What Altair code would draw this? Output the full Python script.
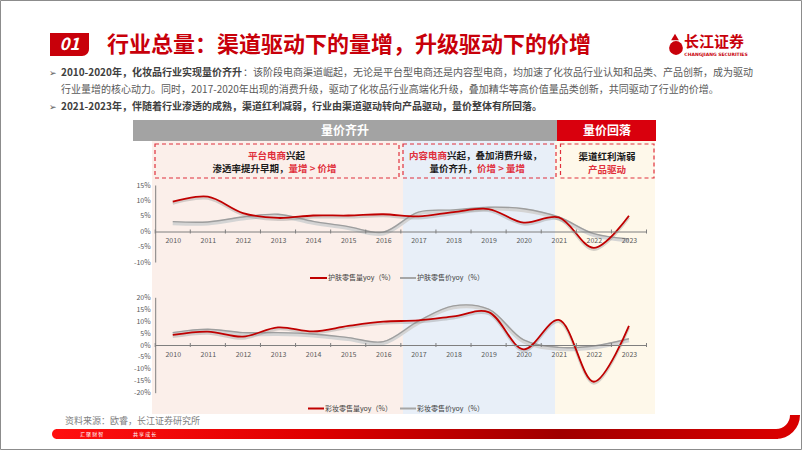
import altair as alt
import pandas as pd

# ---------------- data ----------------
years = list(range(2010, 2024))
skin_volume = [9.6, 11.2, 5.9, 4.3, 5.1, 5.1, 5.5, 4.8, 6.2, 7.2, 2.8, 4.5, -5.4, 5.0]
skin_price = [3.1, 3.0, 4.6, 5.5, 3.2, 1.5, -0.3, 6.2, 6.9, 7.8, 7.3, 4.6, -0.8, -2.5]
makeup_volume = [4.2, 5.6, 3.5, 7.4, 5.7, 8.0, 9.8, 10.3, 12.0, 13.8, -1.8, 10.5, -15.4, 8.0]
makeup_price = [5.2, 6.6, 5.2, 5.2, 4.6, 3.1, 1.4, 10.0, 16.4, 15.0, 2.1, -1.0, -0.4, 2.6]
top_ticks = [-10, -5, 0, 5, 10, 15]
bottom_ticks = [-20, -15, -10, -5, 0, 5, 10, 15, 20]
legend_top = ["护肤零售量yoy（%）", "护肤零售价yoy（%）"]
legend_bottom = ["彩妆零售量yoy（%）", "彩妆零售价yoy（%）"]
half_years = [y - 0.5 for y in years] + [years[-1] + 0.5]

FONT = "Noto Sans CJK SC"
RED = "#C00000"
TRED = "#C8000A"
BOXRED = "#E0303C"
GREY = "#A6A6A6"
DARK = "#404040"
MID = "#595959"

one = pd.DataFrame({"k": [0]})


def rect(x1, y1, x2, y2, **kw):
    return alt.Chart(one).mark_rect(**kw).encode(
        x=alt.value(x1), x2=alt.value(x2), y=alt.value(y1), y2=alt.value(y2))


def label(s, x, y, size=10, color=DARK, weight="normal", align="left", font=FONT, **kw):
    return alt.Chart(one).mark_text(
        text=s, font=font, fontSize=size, color=color, fontWeight=weight,
        align=align, baseline="middle", **kw).encode(x=alt.value(x), y=alt.value(y))


def hline(x1, x2, y, color, width):
    return alt.Chart(one).mark_rule(color=color, strokeWidth=width).encode(
        x=alt.value(x1), x2=alt.value(x2), y=alt.value(y))


X0, X1 = 155.2, 646.5


def panel(vol, price, y_dom, y_rng, y_vals, zero_px):
    df = pd.DataFrame({"year": years, "vol": vol, "price": price})
    xs = alt.Scale(domain=[2009.5, 2023.5], range=[X0, X1], nice=False, zero=False)
    ys = alt.Scale(domain=y_dom, range=y_rng, nice=False, zero=False)
    xa = alt.Axis(orient="bottom", offset=zero_px - 451, values=years, format="d",
                  ticks=False, labelPadding=5, domainColor="#7f7f7f", domainWidth=1,
                  labelColor=MID, labelFontSize=7, labelFont=FONT, grid=False,
                  title=None, zindex=1, labelFlush=False)
    ya = alt.Axis(orient="left", offset=-X0, values=y_vals,
                  labelExpr="datum.value + '%'", ticks=False, labelPadding=5,
                  domainColor="#7f7f7f", domainWidth=1, labelColor=MID,
                  labelFontSize=7, labelFont=FONT, grid=False, title=None, zindex=1)
    base = alt.Chart(df)
    layers = []
    layers.append(base.mark_line(color="#D4D4D4", strokeWidth=4, interpolate="catmull-rom",
                                 yOffset=1.5).encode(
        x=alt.X("year:Q", scale=xs, axis=xa), y=alt.Y("price:Q", scale=ys, axis=ya)))
    layers.append(base.mark_line(color="#9E9E9E", strokeWidth=1.4, interpolate="catmull-rom").encode(
        x=alt.X("year:Q", scale=xs, axis=None), y=alt.Y("price:Q", scale=ys, axis=None)))
    layers.append(base.mark_line(color="#8a8a8a", opacity=0.35, strokeWidth=2.5,
                                 interpolate="catmull-rom", yOffset=1.8).encode(
        x=alt.X("year:Q", scale=xs, axis=None), y=alt.Y("vol:Q", scale=ys, axis=None)))
    layers.append(base.mark_line(color=RED, strokeWidth=1.8, interpolate="catmull-rom").encode(
        x=alt.X("year:Q", scale=xs, axis=None), y=alt.Y("vol:Q", scale=ys, axis=None)))
    tick_df = pd.DataFrame({"t": half_years})
    layers.append(alt.Chart(tick_df).mark_rule(color="#7f7f7f", strokeWidth=1).encode(
        x=alt.X("t:Q", scale=xs, axis=None),
        y=alt.value(zero_px - 2), y2=alt.value(zero_px + 2)))
    return layers


layers = []
# frame & page
layers.append(rect(0.5, 0.5, 801.5, 449.5, fill="white", stroke="#8c8c8c", strokeWidth=1))

# title
layers.append(rect(50, 33, 89, 56, color=TRED, cornerRadiusBottomRight=7))
layers.append(label("01", 69.5, 45, size=17, color="white", weight="bold", align="center",
                    fontStyle="italic"))
layers.append(label("行业总量：渠道驱动下的量增，升级驱动下的价增", 107, 45, size=22,
                    color=TRED, weight="bold"))
# logo
layers.append(alt.Chart(one).mark_point(filled=True, shape="circle", size=190, color=TRED,
                                        opacity=1).encode(x=alt.value(676), y=alt.value(48)))
layers.append(alt.Chart(one).mark_point(filled=True, shape="triangle-up", size=60, color=TRED,
                                        opacity=1).encode(x=alt.value(675), y=alt.value(37)))
layers.append(label("长江证券", 684, 42, size=15, color=TRED, weight="bold"))
layers.append(label("CHANGJIANG SECURITIES", 716, 55, size=4.5, color=TRED, weight="bold",
                    align="center", font="DejaVu Sans"))

# bullets
layers.append(label("➢", 49, 72.5, size=9, color=MID, font="DejaVu Sans"))
layers.append(label("2010-2020年，化妆品行业实现量价齐升", 61, 72.5, size=10, color=DARK, weight="bold"))
layers.append(label("：该阶段电商渠道崛起，无论是平台型电商还是内容型电商，均加速了化妆品行业认知和品类、产品创新，成为驱动",
                    243, 72.5, size=10, color=MID))
layers.append(label("行业量增的核心动力。同时，2017-2020年出现的消费升级，驱动了化妆品行业高端化升级，叠加精华等高价值量品类创新，共同驱动了行业的价增。",
                    61, 90, size=10, color=MID))
layers.append(label("➢", 49, 107, size=9, color=MID, font="DejaVu Sans"))
layers.append(label("2021-2023年，伴随着行业渗透的成熟，渠道红利减弱，行业由渠道驱动转向产品驱动，量价整体有所回落。",
                    61, 107, size=10, color=DARK, weight="bold"))

# backgrounds
layers.append(rect(152, 141, 403, 414, color="#FBEFEA"))
layers.append(rect(403, 141, 555, 414, color="#E8EFF8"))
layers.append(rect(555, 141, 655, 414, color="#FEF8EA"))

# header bars
layers.append(rect(133, 120, 557, 141, color="#A3A3A3"))
layers.append(rect(557, 120, 656, 141, color="#D9000D"))
layers.append(label("量价齐升", 345, 130.5, size=12, color="white", weight="bold", align="center"))
layers.append(label("量价回落", 607, 130.5, size=12, color="white", weight="bold", align="center"))

# dashed boxes
for (a, b) in [(155, 399), (403, 556), (560.5, 654)]:
    layers.append(rect(a, 144, b, 178, fillOpacity=0, stroke=BOXRED, strokeWidth=1.2,
                       strokeDash=[4, 3]))

# box texts
L1, L2 = 155.5, 168.5
layers.append(label("平台电商", 248, L1, size=9.5, color=BOXRED, weight="bold"))
layers.append(label("兴起", 286, L1, size=9.5, color="#1a1a1a", weight="bold"))
layers.append(label("渗透率提升早期，", 212.5, L2, size=9.5, color="#1a1a1a", weight="bold"))
layers.append(label("量增 > 价增", 288.5, L2, size=9.5, color=BOXRED, weight="bold"))
layers.append(label("内容电商", 409, L1, size=9.5, color=BOXRED, weight="bold"))
layers.append(label("兴起，叠加消费升级，", 447, L1, size=9.5, color="#1a1a1a", weight="bold"))
layers.append(label("量价齐升，", 429.5, L2, size=9.5, color="#1a1a1a", weight="bold"))
layers.append(label("价增 > 量增", 477, L2, size=9.5, color=BOXRED, weight="bold"))
layers.append(label("渠道红利渐弱", 607, L1 + 1.5, size=9.5, color="#1a1a1a", weight="bold", align="center"))
layers.append(label("产品驱动", 607, L2 + 1, size=9.5, color=BOXRED, weight="bold", align="center"))

# chart panels
layers += panel(skin_volume, skin_price, [-10, 15], [262, 185], top_ticks, 231.5)
layers += panel(makeup_volume, makeup_price, [-20, 20], [392.7, 297.3], bottom_ticks, 345)

# legends
layers.append(hline(310, 327, 278, RED, 2))
layers.append(label(legend_top[0], 328, 278, size=7, color=DARK))
layers.append(hline(400, 416, 278, GREY, 2))
layers.append(label(legend_top[1], 417, 278, size=7, color=DARK))
layers.append(hline(308, 324, 408.5, RED, 2))
layers.append(label(legend_bottom[0], 325, 408.5, size=7, color=DARK))
layers.append(hline(400, 416, 408.5, GREY, 2))
layers.append(label(legend_bottom[1], 417, 408.5, size=7, color=DARK))

# footer
layers.append(label("资料来源：欧睿，长江证券研究所", 65, 420.5, size=9, color="#808080"))
grad = alt.Gradient(gradient="linear", x1=0, x2=1, y1=0, y2=0, stops=[
    alt.GradientStop(color="#FF1010", offset=0),
    alt.GradientStop(color="#E00000", offset=0.35),
    alt.GradientStop(color="#A00000", offset=0.7),
    alt.GradientStop(color="#D80000", offset=1)])
layers.append(rect(52, 429, 778, 439, color=grad, cornerRadiusTopLeft=5,
                   cornerRadiusBottomLeft=5))
layers.append(alt.Chart(one).mark_arc(theta=1.5708, theta2=3.1416, radius=24, radius2=14,
                                      color="#D80000").encode(x=alt.value(776), y=alt.value(415)))
layers.append(label("汇 聚 财 智", 80, 434, size=5, color="white"))
layers.append(label("共 享 成 长", 133, 434, size=5, color="white"))

chart = alt.layer(*layers).resolve_scale(x="independent", y="independent").properties(
    width=802, height=451, autosize=alt.AutoSizeParams(type="none"), padding=0,
    background="white").configure_view(strokeWidth=0)

chart.save("out.html", embed_options={"renderer": "svg", "actions": False})
